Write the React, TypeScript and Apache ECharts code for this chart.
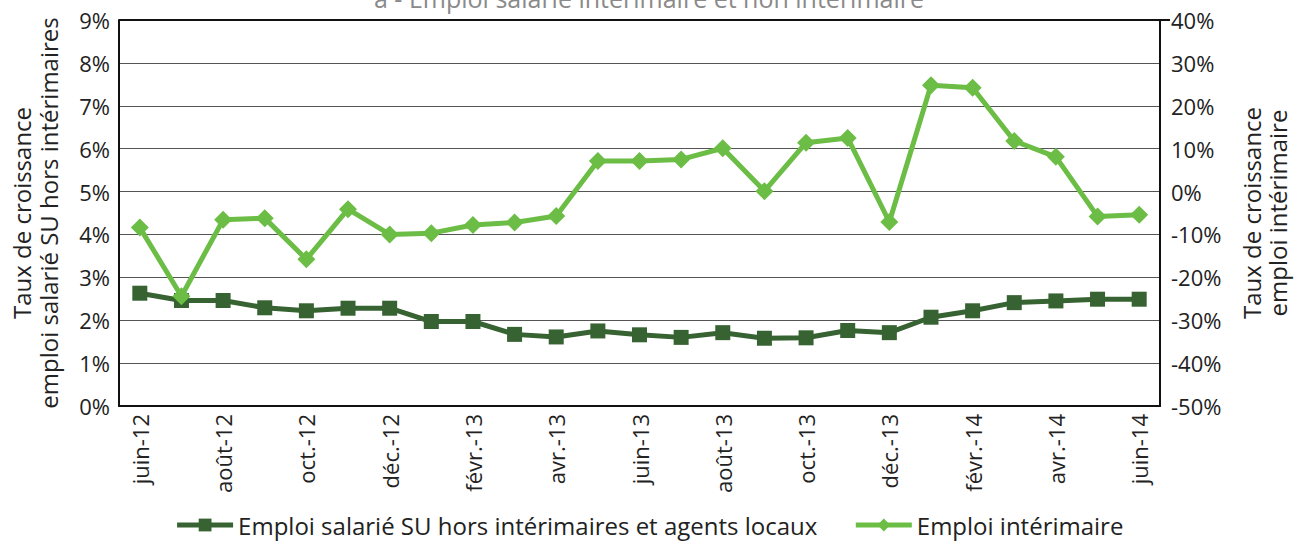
import React, { useEffect, useRef } from "react";
import * as echarts from "echarts";

const months = [
  "juin-12", "juil.-12", "août-12", "sept.-12", "oct.-12", "nov.-12", "déc.-12",
  "janv.-13", "févr.-13", "mars-13", "avr.-13", "mai-13", "juin-13", "juil.-13",
  "août-13", "sept.-13", "oct.-13", "nov.-13", "déc.-13", "janv.-14", "févr.-14",
  "mars-14", "avr.-14", "mai-14", "juin-14",
];

const emploiSalarie = [
  2.63, 2.46, 2.46, 2.29, 2.22, 2.28, 2.28, 1.97, 1.97, 1.67, 1.61, 1.75, 1.66,
  1.60, 1.71, 1.58, 1.59, 1.76, 1.71, 2.07, 2.22, 2.41, 2.45, 2.49, 2.49,
];

const emploiInterimaire = [
  -8.4, -24.4, -6.6, -6.2, -15.8, -4.1, -10.0, -9.7, -7.8, -7.2, -5.7, 7.1, 7.1,
  7.5, 10.1, 0.1, 11.4, 12.5, -7.1, 24.8, 24.2, 11.8, 8.1, -5.8, -5.4,
];

const titleText = "a - Emploi salarié intérimaire et non intérimaire";
const seriesNames = [
  "Emploi salarié SU hors intérimaires et agents locaux",
  "Emploi intérimaire",
];

const FONT = "'Open Sans', 'Noto Sans', sans-serif";
const DARK = "#366331";
const LIGHT = "#6cbd45";
const TEXT = "#222";

export default function App() {
  const ref = useRef<HTMLDivElement>(null);
  useEffect(() => {
    document.body.style.margin = "0";
    if (!ref.current) return;
    const chart = echarts.init(ref.current, undefined, { renderer: "svg" });
    const gridLeft = 119;
    const gridRight = 128;
    const gridTop = 20;
    chart.setOption({
      animation: false,
      textStyle: { fontFamily: FONT },
      grid: { left: gridLeft, right: gridRight, top: gridTop, bottom: 138 },
      graphic: [
        {
          type: "text",
          left: "center",
          top: -15,
          style: { text: titleText, fontFamily: FONT, fontSize: 25, fill: "#8a8a8a" },
        },
        {
          type: "line",
          shape: { x1: gridLeft, y1: gridTop, x2: 1298 - gridRight, y2: gridTop },
          style: { stroke: "#111", lineWidth: 2 },
          z: 10,
        },
      ],
      legend: {
        bottom: 2,
        left: "center",
        itemWidth: 56,
        itemHeight: 16,
        itemGap: 36,
        lineStyle: { width: 5 },
        textStyle: { fontFamily: FONT, fontSize: 24, color: TEXT },
        data: seriesNames,
      },
      xAxis: {
        type: "category",
        data: months,
        boundaryGap: true,
        axisLine: { lineStyle: { color: "#111", width: 2 } },
        axisTick: { show: false },
        axisLabel: {
          interval: 1,
          rotate: 90,
          fontSize: 22,
          color: TEXT,
          fontFamily: FONT,
          margin: 8,
        },
      },
      yAxis: [
        {
          type: "value",
          min: 0,
          max: 9,
          interval: 1,
          position: "left",
          name: "Taux de croissance\nemploi salarié SU hors intérimaires",
          nameLocation: "middle",
          nameGap: 57,
          nameTextStyle: { fontSize: 24, color: TEXT, fontFamily: FONT, lineHeight: 27 },
          axisLine: { show: true, lineStyle: { color: "#111", width: 2 } },
          axisTick: { show: false },
          axisLabel: {
            formatter: (v: number) => `${v}%`,
            fontSize: 22,
            color: TEXT,
            fontFamily: FONT,
            margin: 9,
          },
          splitLine: { show: true, lineStyle: { color: "#555", width: 1 } },
        },
        {
          type: "value",
          min: -50,
          max: 40,
          interval: 10,
          position: "right",
          name: "Taux de croissance\nemploi intérimaire",
          nameLocation: "middle",
          nameGap: 78,
          nameTextStyle: { fontSize: 24, color: TEXT, fontFamily: FONT, lineHeight: 26 },
          axisLine: { show: true, lineStyle: { color: "#111", width: 2 } },
          axisTick: { show: false },
          axisLabel: {
            formatter: (v: number) => `${v}%`,
            fontSize: 22,
            color: TEXT,
            fontFamily: FONT,
            margin: 11,
          },
          splitLine: { show: false },
        },
      ],
      series: [
        {
          name: seriesNames[0],
          type: "line",
          yAxisIndex: 0,
          data: emploiSalarie,
          symbol: "rect",
          symbolSize: 15,
          lineStyle: { color: DARK, width: 5 },
          itemStyle: { color: DARK, borderRadius: 3 },
          z: 3,
        },
        {
          name: seriesNames[1],
          type: "line",
          yAxisIndex: 1,
          data: emploiInterimaire,
          symbol: "diamond",
          symbolSize: 18,
          lineStyle: { color: LIGHT, width: 5 },
          itemStyle: { color: LIGHT },
          z: 4,
        },
      ],
    });
    return () => chart.dispose();
  }, []);
  return <div ref={ref} style={{ width: 1298, height: 544 }} />;
}
